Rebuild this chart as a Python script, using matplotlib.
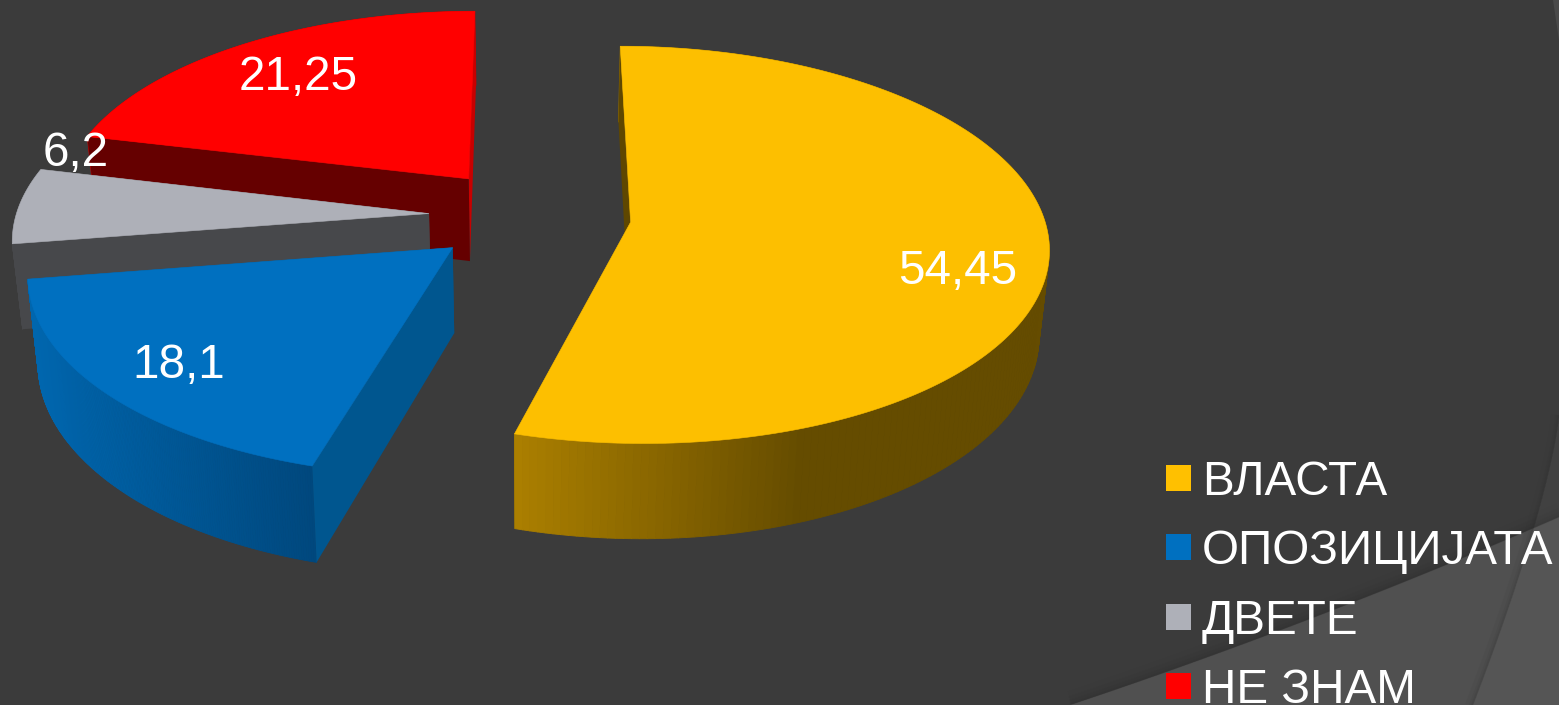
import numpy as np
import matplotlib
matplotlib.use("Agg")
import matplotlib.pyplot as plt
from matplotlib.collections import PolyCollection
from matplotlib.colors import to_rgb
from matplotlib.patches import Patch, Polygon

categories = ["ВЛАСТА", "ОПОЗИЦИЈАТА", "ДВЕТЕ", "НЕ ЗНАМ"]
values = [54.45, 18.1, 6.2, 21.25]
value_labels = ["54,45", "18,1", "6,2", "21,25"]

top_colors = ["#FDBF00", "#0070C0", "#AEB0B8", "#FF0000"]
legend_colors = ["#FFC000", "#0070C0", "#AEB0B8", "#FF0000"]
start_face = ["#5F4700", "#00568F", "#47484B", "#650000"]
end_face = ["#5F4700", "#00568F", "#47484B", "#C80000"]
rim_left = ["#AB7F00", "#0066AE", "#47484B", "#C80000"]
rim_right = ["#654C00", "#00487E", "#47484B", "#C80000"]
rim_span = [(517, 800), (37, 312), (0, 1), (0, 1)]

BG = "#3B3B3B"
TEXT = "#FFFFFF"
CX, CY, RX, RY, K = 530.0, 215.5, 413.0, 194.5, 0.114
EXPLODE, DEPTH, SHRINK = 0.245, 84.0, 0.02
label_px = [(958, 272), (179, 366), (76, 153), (298, 78)]

plt.rcParams["font.family"] = ["Liberation Sans", "DejaVu Sans"]
fig = plt.figure(figsize=(15.59, 7.05), dpi=100, facecolor=BG)
ax = fig.add_axes([0, 0, 1, 1])
ax.set_xlim(0, 1559)
ax.set_ylim(705, 0)
ax.axis("off")


def top_xy(u, v):
    d = 1 + K * v
    return np.column_stack([CX + RX * u / d, CY - RY * v / d])


def bottom_xy(u, v):
    p = top_xy(u, v)
    d = 1 + K * v
    return np.column_stack([CX + (p[:, 0] - CX) * (1 - SHRINK), p[:, 1] + DEPTH / d])


# slide background: decorative arcs
t = np.linspace(0, 1, 120)
arc1 = np.column_stack([1070 + 489 * t, 705 - 188 * (0.87 * t + 0.13 * t ** 2)])
arc2 = np.column_stack([1473 + 86 * (1 - (1 - t) ** 1.3), 705 - 290 * t])
ax.add_patch(Polygon(np.vstack([arc1, [[1559, 705]]]), fc="#505050", ec="none", zorder=0))
for w, a in zip([14, 9, 5, 2], [0.05, 0.07, 0.09, 0.12]):
    ax.plot(arc1[:, 0], arc1[:, 1] - w / 2, color="#2A2A2A", lw=w * 0.72, alpha=a, zorder=0.5,
            solid_capstyle="butt")
ax.add_patch(Polygon(np.vstack([arc2, [[1559, 705]]]), fc="#FFFFFF", alpha=0.03,
                     ec="none", zorder=0.6))
for w, a in zip([8, 4, 2], [0.06, 0.08, 0.10]):
    ax.plot(arc2[:, 0] - w / 2, arc2[:, 1], color="#2A2A2A", lw=w * 0.72, alpha=a, zorder=0.5,
            solid_capstyle="butt")
ax.add_patch(Polygon([[1553, 0], [1559, 0], [1559, 40]], fc="#4A4A4A", ec="none", zorder=0.6))

fractions = np.array(values) / np.sum(values)
edges = np.concatenate([[0], np.cumsum(fractions)]) * 2 * np.pi

# painter's order: back slices first
for zi, i in enumerate([3, 2, 1, 0]):
    a0, a1 = edges[i], edges[i + 1]
    mid = (a0 + a1) / 2
    ou, ov = EXPLODE * np.sin(mid), EXPLODE * np.cos(mid)
    ang = np.linspace(a0, a1, 200)
    u, v = ou + np.sin(ang), ov + np.cos(ang)
    rim_t, rim_b = top_xy(u, v), bottom_xy(u, v)
    apex_t, apex_b = top_xy(np.array([ou]), np.array([ov])), bottom_xy(np.array([ou]), np.array([ov]))
    z = 2 + zi
    ax.add_patch(Polygon(np.vstack([apex_t, rim_t[-1:], rim_b[-1:], apex_b]), fc=end_face[i],
                         ec="none", zorder=z))
    # outer wall with a horizontal shade
    quads = [np.array([rim_t[j], rim_t[j + 1], rim_b[j + 1], rim_b[j]]) for j in range(len(ang) - 1)]
    x0, x1 = rim_span[i]
    cl, cr = np.array(to_rgb(rim_left[i])), np.array(to_rgb(rim_right[i]))
    s = np.clip((np.array([q[:, 0].mean() for q in quads]) - x0) / (x1 - x0), 0, 1)
    cols = cl + (cr - cl) * s[:, None]
    ax.add_collection(PolyCollection(quads, facecolors=cols, edgecolors=cols, linewidths=0.6,
                                     zorder=z + 0.1))
    ax.add_patch(Polygon(np.vstack([apex_t, rim_t[:1], rim_b[:1], apex_b]), fc=start_face[i],
                         ec="none", zorder=z + 0.15))
    # top face
    ax.add_patch(Polygon(np.vstack([apex_t, rim_t]), fc=top_colors[i], ec=top_colors[i], lw=0.4,
                         zorder=z + 0.2))

for lab, (x, y) in zip(value_labels, label_px):
    ax.text(x, y, lab, color=TEXT, fontsize=34.3, ha="center", va="center", zorder=10)

handles = [Patch(facecolor=c, edgecolor="none", label=n) for c, n in zip(legend_colors, categories)]
leg = ax.legend(handles=handles, loc="lower left", bbox_to_anchor=(1166, 713),
                bbox_transform=ax.transData, frameon=False, fontsize=34.3, labelcolor=TEXT,
                handlelength=0.525, handleheight=0.46, handletextpad=0.23, labelspacing=0.513,
                borderpad=0, borderaxespad=0)
leg.set_zorder(10)
fig.savefig("out.png", dpi=100, facecolor=BG)
